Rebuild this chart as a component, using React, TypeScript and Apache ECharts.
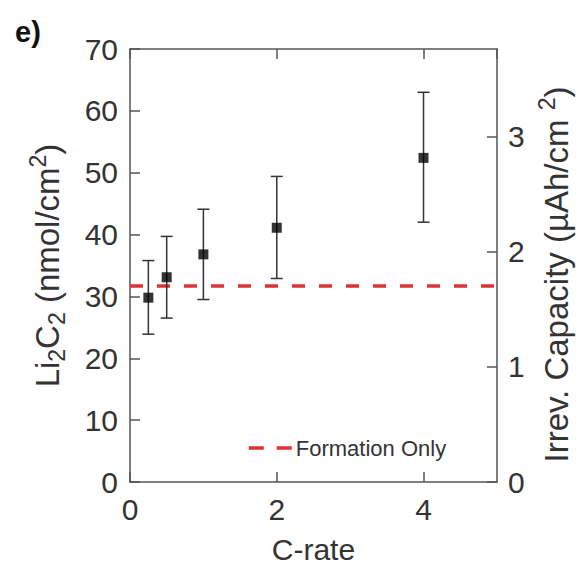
import React, { useEffect, useRef } from "react";
import * as echarts from "echarts";

// C-rate of each cycling condition
const cRate = [0.25, 0.5, 1, 2, 4];
// Mean Li2C2 amount (nmol/cm2)
const li2c2 = [29.8, 33.1, 36.8, 41.1, 52.4];
// Error bar limits (nmol/cm2)
const errLow = [23.9, 26.5, 29.5, 32.9, 42.0];
const errHigh = [35.8, 39.7, 44.1, 49.4, 63.0];
// Reference level after formation only (nmol/cm2)
const formationOnly = 31.7;

// Axis ranges
const xTicks = { min: 0, max: 5, interval: 2 };
const leftTicks = { min: 0, max: 70, interval: 10 };
// 1 µAh/cm2 of irreversible capacity corresponds to ~18.62 nmol/cm2
const nmolPerMicroAh = 18.62;

const FONT = "'Liberation Sans', Arial, Helvetica, sans-serif";
const TEXT = "#333333";
const AXIS = "#555555";
const RED = "#dd3333";

export default function App() {
  const ref = useRef<HTMLDivElement>(null);

  useEffect(() => {
    if (!ref.current) return;
    const chart = echarts.init(ref.current, undefined, { renderer: "svg" });

    const rich = {
      n: { fontSize: 33, lineHeight: 42, color: TEXT, fontFamily: FONT },
      sub: { fontSize: 23, lineHeight: 21, verticalAlign: "bottom", color: TEXT, fontFamily: FONT },
      sup: { fontSize: 23, lineHeight: 21, verticalAlign: "top", color: TEXT, fontFamily: FONT },
    };

    const axisLine = { show: true, onZero: false, lineStyle: { color: AXIS, width: 1.5 } };
    const axisTick = { show: true, inside: true, length: 10, lineStyle: { color: AXIS, width: 1.5 } };
    const axisLabel = { fontSize: 30, color: TEXT, fontFamily: FONT, margin: 12 };

    const errData = cRate.map((x, i) => [x, errLow[i], errHigh[i]]);
    const ptData = cRate.map((x, i) => [x, li2c2[i]]);

    chart.setOption({
      animation: false,
      backgroundColor: "#ffffff",
      title: {
        text: "e)",
        left: 10,
        top: 12,
        textStyle: { fontSize: 29, fontWeight: "bold", color: "#111", fontFamily: FONT },
      },
      grid: { left: 130, right: 84, top: 49, bottom: 86, containLabel: false },
      legend: {
        data: ["Formation Only"],
        left: 242,
        top: 432,
        itemWidth: 45,
        itemHeight: 14,
        itemGap: 0,
        textStyle: { fontSize: 22, color: TEXT, fontFamily: FONT, padding: [0, 0, 0, -3] },
        lineStyle: { type: [15, 13], width: 3.5, color: RED },
        itemStyle: { color: "rgba(0,0,0,0)", borderWidth: 0, opacity: 0 },
      },
      xAxis: [
        {
          type: "value",
          position: "bottom",
          ...xTicks,
          name: "C-rate",
          nameLocation: "middle",
          nameGap: 52,
          nameTextStyle: { fontSize: 30, color: TEXT, fontFamily: FONT },
          axisLine,
          axisTick,
          axisLabel: { ...axisLabel, showMaxLabel: false },
          splitLine: { show: false },
        },
        {
          type: "value",
          position: "top",
          ...xTicks,
          axisLine,
          axisTick,
          axisLabel: { show: false },
          splitLine: { show: false },
        },
      ],
      yAxis: [
        {
          type: "value",
          position: "left",
          ...leftTicks,
          name: "{n|Li}{sub|2}{n|C}{sub|2}{n| (nmol/cm}{sup|2}{n|)}",
          nameLocation: "middle",
          nameRotate: 90,
          nameGap: 62,
          nameTextStyle: { rich },
          axisLine,
          axisTick,
          axisLabel,
          splitLine: { show: false },
        },
        {
          type: "value",
          position: "right",
          min: 0,
          max: leftTicks.max / nmolPerMicroAh,
          interval: 1,
          name: "{n|Irrev. Capacity (µAh/cm }{sup|2}{n|)}",
          nameLocation: "middle",
          nameRotate: 90,
          nameGap: 38,
          nameTextStyle: { rich, padding: [0, 18, 0, 0] },
          axisLine,
          axisTick,
          axisLabel: { ...axisLabel, margin: 11, showMaxLabel: false },
          splitLine: { show: false },
        },
      ],
      series: [
        {
          name: "Formation Only",
          type: "line",
          xAxisIndex: 0,
          yAxisIndex: 0,
          data: [
            [xTicks.min, formationOnly],
            [xTicks.max, formationOnly],
          ],
          symbol: "none",
          showSymbol: false,
          lineStyle: { color: RED, width: 3.5, type: [13, 14] },
          itemStyle: { color: RED },
          z: 2,
        },
        {
          name: "error",
          type: "custom",
          xAxisIndex: 0,
          yAxisIndex: 0,
          data: errData,
          encode: { x: 0, y: [1, 2] },
          z: 3,
          renderItem: (params: any, api: any) => {
            const x = api.value(0);
            const lo = api.coord([x, api.value(1)]);
            const hi = api.coord([x, api.value(2)]);
            const half = 6;
            const style = { stroke: "#333333", lineWidth: 1.5 };
            return {
              type: "group",
              children: [
                { type: "line", shape: { x1: lo[0], y1: lo[1], x2: hi[0], y2: hi[1] }, style },
                { type: "line", shape: { x1: lo[0] - half, y1: lo[1], x2: lo[0] + half, y2: lo[1] }, style },
                { type: "line", shape: { x1: hi[0] - half, y1: hi[1], x2: hi[0] + half, y2: hi[1] }, style },
              ],
            };
          },
        },
        {
          name: "Li2C2",
          type: "scatter",
          xAxisIndex: 0,
          yAxisIndex: 0,
          data: ptData,
          symbol: "rect",
          symbolSize: 10,
          itemStyle: { color: "#000000" },
          z: 4,
        },
      ],
    });

    return () => chart.dispose();
  }, []);

  return <div ref={ref} style={{ width: 581, height: 569, position: "absolute", left: 0, top: 0 }} />;
}
